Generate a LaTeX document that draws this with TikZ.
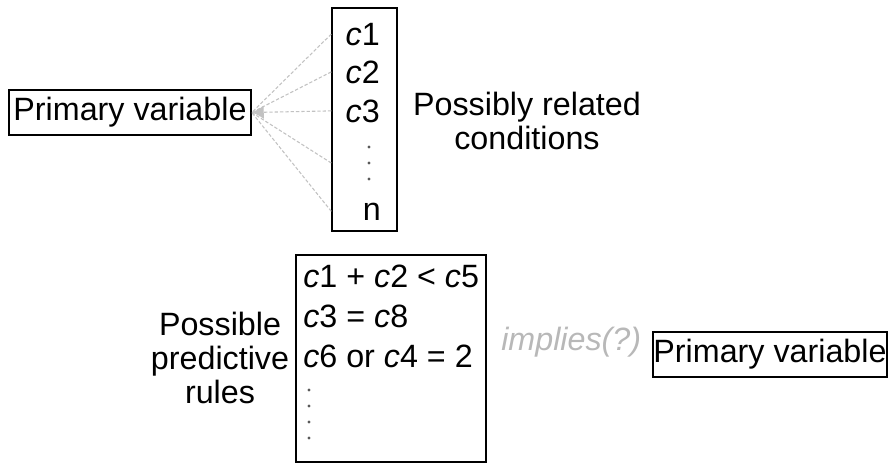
\documentclass[tikz,border=0pt]{standalone}
\usepackage{fontspec}
\setmainfont{Liberation Sans}
\usepackage{tikz}
\usetikzlibrary{arrows.meta,positioning}

\newcommand\cvar{\textit{c}}

\begin{document}
\begin{tikzpicture}[x=0.75pt,y=-0.75pt]
  \tikzset{
    txt/.style={font=\fontsize{24.2}{25.4}\selectfont, inner sep=0pt},
    box/.style={draw=black, line width=1.1pt, inner sep=0pt},
    item/.style={txt, anchor=base east},
    rule/.style={txt, anchor=base west},
    dot/.style={circle, fill=black!65, inner sep=0pt, minimum size=2.4pt},
    hint/.style={txt, text=black!28, font=\fontsize{24.2}{25.4}\selectfont\itshape},
    link/.style={black!24, dash pattern=on 2.5pt off 1.5pt, line width=0.8pt}
  }
  \useasboundingbox (0,0) rectangle (888,464);

  % Top: conditions feeding the primary variable
  \node[box, txt, minimum width=181.5pt, minimum height=33.75pt] (pvtop) at (130,112.5) {Primary variable};
  \node[box, minimum width=48.75pt, minimum height=167.25pt] (cond) at (364.5,119.5) {};

  \node[item] (c1) at (380,45) {\cvar1};
  \node[item] (c2) at (380,83) {\cvar2};
  \node[item] (c3) at (380,122) {\cvar3};
  \foreach \y [count=\i] in {147,163,179}
    \node[dot] (d\i) at (369,\y) {};
  \node[item] (cn) at (381,220) {n};

  \node[txt, align=center] (condlbl) at (527,121) {Possibly related\\conditions};

  % Dotted links into the primary variable
  \draw[link] (cond.west |- c1) -- (pvtop.east);
  \draw[link] (cond.west |- c2) -- (pvtop.east);
  \draw[link] (cond.west |- d2) -- (pvtop.east);
  \draw[link] (cond.west |- cn) -- (pvtop.east);
  \draw[link, -{Latex[length=9pt,width=10pt]}] (cond.west |- c3) -- (pvtop.east);

  % Bottom: predictive rules
  \node[box, minimum width=142.5pt, minimum height=155.25pt] (rules) at (391,358.5) {};
  \node[rule] (r1) at (303,287) {\cvar1 + \cvar2 < \cvar5};
  \node[rule] (r2) at (303,327) {\cvar3 = \cvar8};
  \node[rule] (r3) at (303,367) {\cvar6 or \cvar4 = 2};
  \foreach \y [count=\i] in {390,406,422,438}
    \node[dot] (e\i) at (309,\y) {};

  \node[txt, align=center] (rulelbl) at (220,358) {Possible\\predictive\\rules};

  \node[hint, anchor=base west] (impl) at (501,350) {implies(?)};
  \node[box, txt, minimum width=175.5pt, minimum height=33.75pt] (pvbot) at (770,354.5) {Primary variable};

\end{tikzpicture}
\end{document}
